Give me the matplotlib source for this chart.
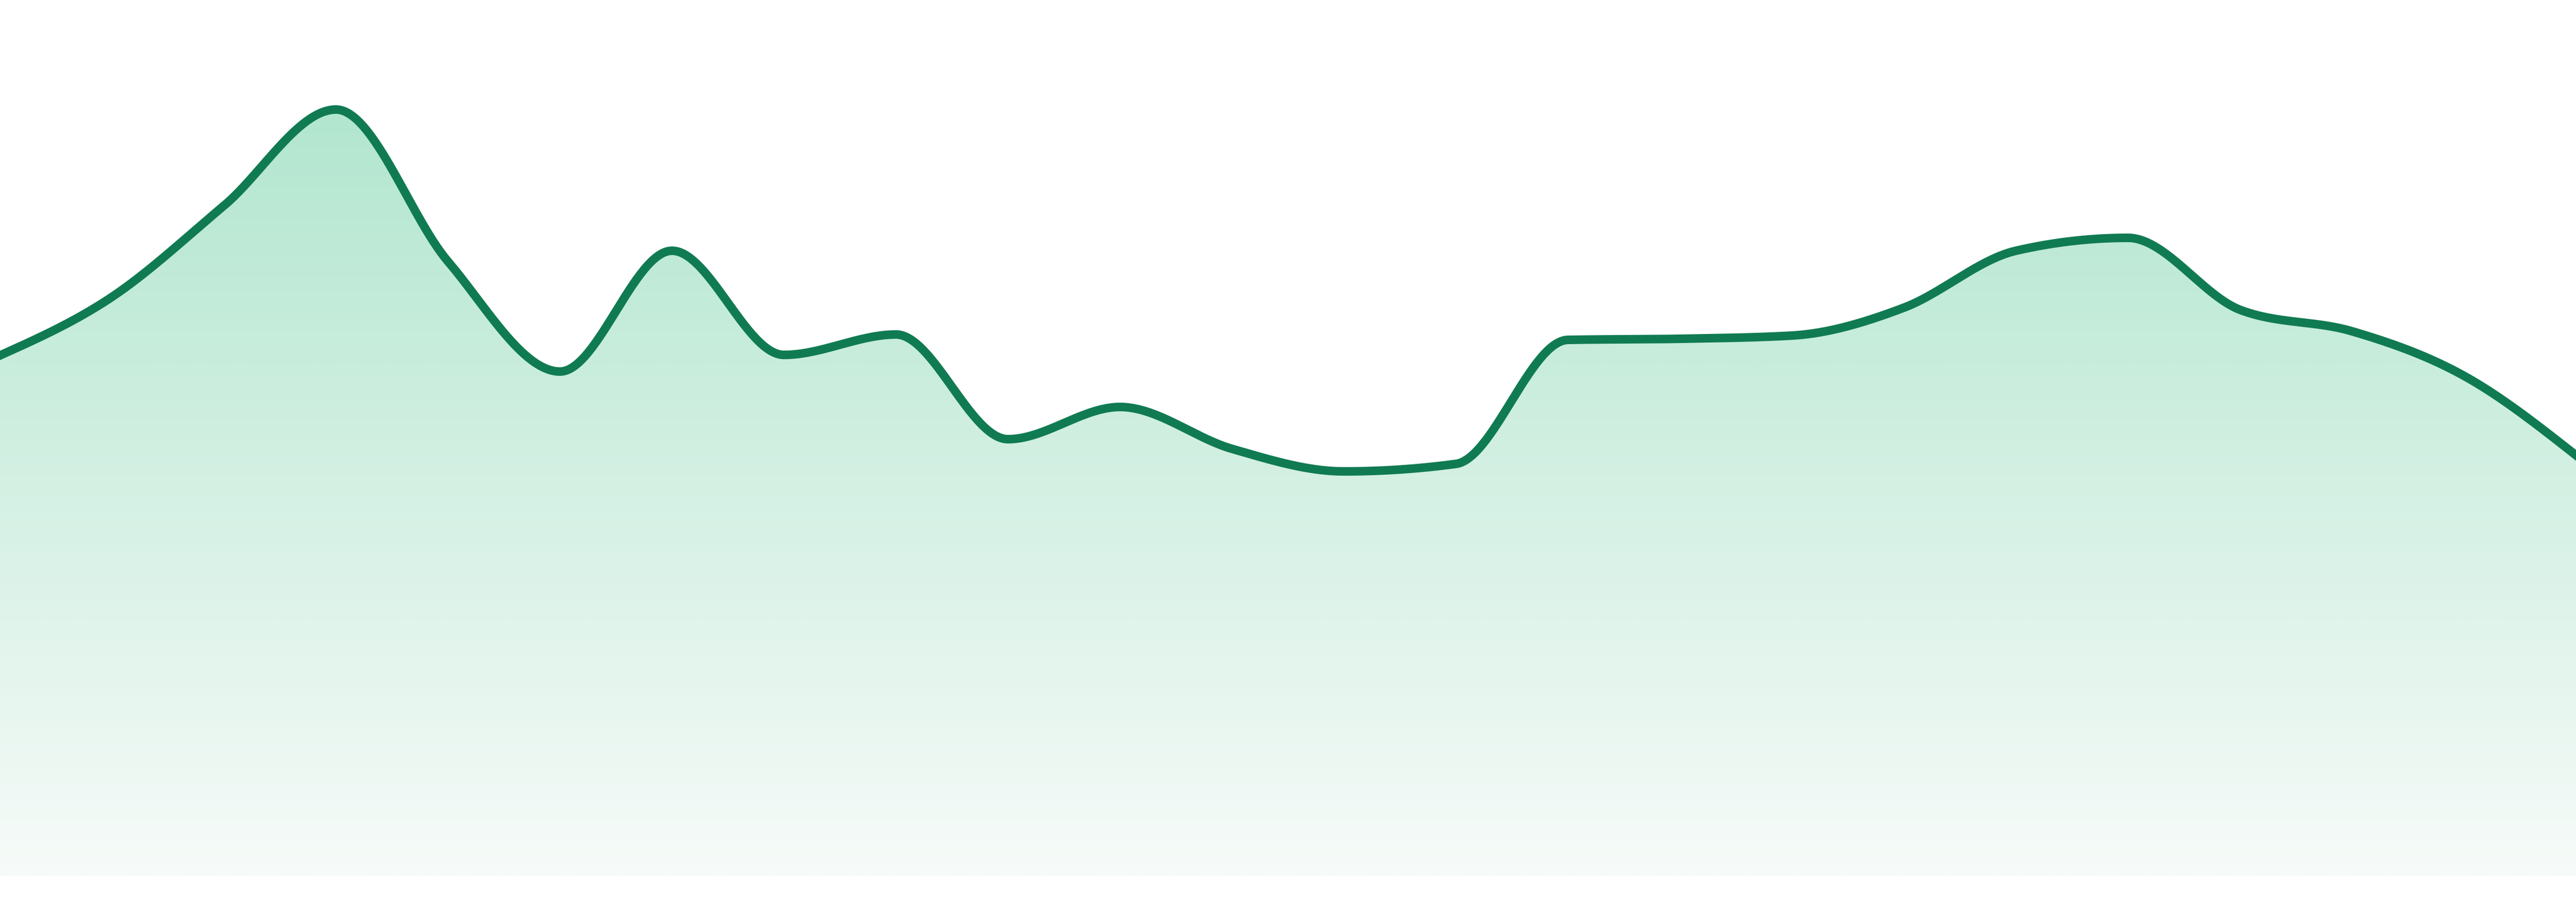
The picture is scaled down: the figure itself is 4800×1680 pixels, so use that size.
import numpy as np
import matplotlib
matplotlib.use('Agg')
import matplotlib.pyplot as plt
from matplotlib.colors import LinearSegmentedColormap

# data (one value per day)
days = np.arange(24)
values = [97.0, 107.9, 124.9, 142.8, 114.5, 94.0, 116.5, 97.1, 100.9, 81.4,
          87.4, 79.6, 75.4, 76.8, 99.9, 100.1, 100.7, 105.9, 116.5, 118.9,
          105.5, 101.5, 93.2, 78.4]

line_color = '#107b52'
top_color = '#b2e6cf'
bottom_color = '#f7fbf9'
y_max = 163.2


def monotone_x(x, y, n=60):
    # same smoothing as d3.curveMonotoneX
    x = np.asarray(x, float)
    y = np.asarray(y, float)
    h = np.diff(x)
    s = np.diff(y) / h
    t = np.zeros_like(y)
    for i in range(1, len(x) - 1):
        p = (s[i - 1] * h[i] + s[i] * h[i - 1]) / (h[i - 1] + h[i])
        t[i] = (np.sign(s[i - 1]) + np.sign(s[i])) * min(abs(s[i - 1]), abs(s[i]), 0.5 * abs(p))
    t[0] = (3 * s[0] - t[1]) / 2
    t[-1] = (3 * s[-1] - t[-2]) / 2
    xs, ys = [], []
    for i in range(len(x) - 1):
        u = np.linspace(0, 1, n, endpoint=(i == len(x) - 2))
        h00 = 2 * u**3 - 3 * u**2 + 1
        h10 = u**3 - 2 * u**2 + u
        h01 = -2 * u**3 + 3 * u**2
        h11 = u**3 - u**2
        xs.append(x[i] + u * h[i])
        ys.append(h00 * y[i] + h10 * h[i] * t[i] + h01 * y[i + 1] + h11 * h[i] * t[i + 1])
    return np.concatenate(xs), np.concatenate(ys)


xs, ys = monotone_x(days, values)

fig = plt.figure(figsize=(16, 5.6), dpi=300)
ax = fig.add_axes([0, 48 / 1680, 1, 1632 / 1680])
ax.set_xlim(days[0], days[-1])
ax.set_ylim(0, y_max)
ax.axis('off')

# gradient fill under the curve
cmap = LinearSegmentedColormap.from_list('g', [bottom_color, top_color])
peak = max(values)
grad = np.linspace(0, 1, 512).reshape(-1, 1)
img = ax.imshow(grad, cmap=cmap, origin='lower', aspect='auto',
                extent=[days[0], days[-1], 0, peak], interpolation='bilinear', zorder=1)
poly = ax.fill_between(xs, ys, 0, color='none', lw=0)
clip = plt.Polygon(np.column_stack([np.r_[xs, xs[-1], xs[0]], np.r_[ys, 0, 0]]),
                   closed=True, transform=ax.transData, facecolor='none', edgecolor='none')
ax.add_patch(clip)
img.set_clip_path(clip)

ax.plot(xs, ys, color=line_color, linewidth=3.84, solid_joinstyle='round', zorder=3)

fig.savefig('out.png', dpi=300, facecolor='white')
